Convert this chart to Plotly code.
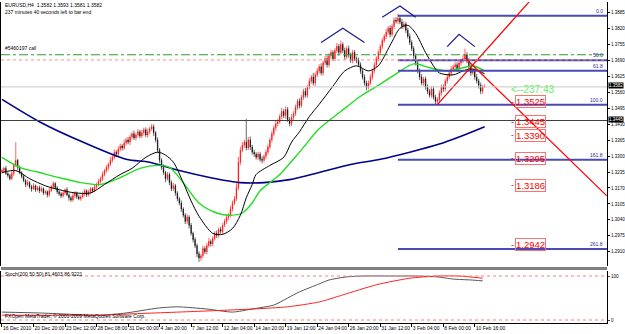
import plotly.graph_objects as go

# ---------------- data (prices in pips relative to 1.3000) ----------------
BASE = 1.3
first_open_pips = 235
close_pips = [
    241, 250, 229, 221, 208, 229, 262, 283, 254, 233,
    217, 200, 184, 192, 175, 167, 179, 163, 171, 159,
    167, 150, 155, 142, 159, 175, 188, 171, 155, 146,
    138, 150, 163, 142, 130, 121, 138, 150, 134, 126,
    134, 146, 159, 142, 155, 167, 159, 175, 184, 196,
    208, 225, 241, 254, 266, 283, 295, 316, 308, 328,
    341, 333, 353, 366, 357, 378, 391, 374, 386, 399,
    382, 395, 407, 386, 399, 411, 420, 395, 366, 324,
    283, 254, 233, 208, 225, 192, 167, 179, 150, 126,
    109, 84, 59, 34, 51, 18, -15, -40, -65, -98,
    -115, -106, -77, -90, -65, -48, -57, -36, -15, -23,
    1, -7, 18, 34, 51, 59, 84, 109, 126, 171,
    275, 324, 345, 357, 333, 366, 337, 316, 308, 295,
    308, 287, 283, 299, 316, 337, 366, 391, 415, 432,
    440, 461, 482, 465, 490, 448, 432, 457, 473, 498,
    523, 506, 540, 564, 548, 581, 606, 622, 598, 631,
    647, 664, 639, 680, 697, 672, 709, 722, 697, 730,
    747, 722, 755, 730, 705, 738, 713, 689, 722, 697,
    689, 672, 647, 622, 598, 581, 598, 622, 647, 672,
    697, 722, 747, 771, 788, 805, 821, 796, 829, 854,
    850, 862, 846, 829, 838, 813, 788, 763, 738, 709,
    680, 647, 622, 598, 614, 581, 564, 548, 573, 540,
    523, 531, 556, 581, 573, 606, 622, 639, 655, 664,
    672, 655, 680, 689, 697, 713, 689, 664, 639, 647,
    622, 606, 589, 564, 581, 582,
]
upper_wick = [
    8, 6, 10, 5, 7, 12, 9, 74, 6, 8,
    5, 9, 7, 12, 6, 8, 10, 5, 7, 9,
    10, 6, 8, 5, 12, 7, 9, 6, 8, 5,
    7, 9, 5, 10, 6, 8, 12, 7, 5, 9,
    6, 10, 8, 5, 9, 7, 6, 11, 8, 10,
    9, 12, 7, 10, 8, 14, 9, 11, 8, 12,
    10, 8, 15, 9, 12, 10, 8, 13, 9, 11,
    8, 12, 9, 10, 14, 8, 12, 9, 7, 10,
    9, 8, 12, 7, 10, 8, 9, 11, 8, 7,
    8, 10, 7, 9, 12, 8, 10, 7, 9, 8,
    10, 8, 12, 9, 11, 14, 8, 10, 9, 12,
    8, 11, 9, 10, 12, 9, 14, 10, 12, 18,
    22, 15, 12, 10, 95, 12, 14, 9, 10, 8,
    10, 9, 12, 8, 11, 10, 9, 12, 10, 14,
    12, 10, 15, 9, 12, 10, 11, 14, 10, 12,
    10, 12, 9, 11, 14, 10, 12, 9, 17, 10,
    12, 10, 14, 9, 11, 13, 10, 12, 9, 11,
    14, 10, 16, 9, 12, 10, 13, 9, 11, 10,
    9, 12, 10, 8, 11, 9, 10, 12, 9, 11,
    10, 12, 9, 11, 10, 13, 9, 12, 10, 11,
    12, 18, 10, 13, 11, 9, 10, 12, 9, 10,
    9, 11, 10, 12, 9, 10, 11, 9, 12, 10,
    10, 9, 12, 10, 11, 9, 12, 10, 11, 9,
    11, 10, 12, 9, 14, 25, 10, 12, 9, 11,
    10, 12, 9, 11, 10, 11,
]
lower_wick = [
    7, 10, 6, 9, 8, 5, 10, 6, 12, 7,
    9, 6, 10, 7, 8, 12, 6, 9, 7, 10,
    6, 9, 7, 11, 8, 6, 10, 7, 9, 8,
    10, 7, 9, 6, 12, 8, 7, 10, 9, 6,
    8, 6, 10, 9, 7, 11, 8, 6, 9, 7,
    7, 10, 8, 9, 11, 7, 10, 8, 12, 9,
    9, 11, 8, 10, 9, 12, 10, 8, 11, 9,
    10, 8, 12, 9, 11, 10, 8, 13, 10, 12,
    12, 10, 9, 14, 8, 11, 10, 9, 12, 10,
    10, 12, 9, 11, 10, 13, 9, 12, 10, 14,
    16, 12, 10, 9, 11, 8, 12, 10, 9, 11,
    10, 9, 12, 8, 10, 11, 9, 10, 8, 9,
    10, 12, 9, 11, 10, 9, 12, 10, 11, 9,
    12, 10, 13, 9, 11, 10, 9, 11, 10, 12,
    11, 9, 12, 10, 13, 9, 11, 10, 12, 9,
    10, 12, 9, 11, 10, 12, 9, 11, 10, 12,
    9, 11, 10, 12, 9, 11, 10, 12, 9, 11,
    10, 12, 9, 11, 13, 10, 12, 9, 11, 10,
    11, 9, 12, 10, 11, 13, 10, 9, 11, 10,
    9, 11, 10, 12, 9, 11, 10, 12, 9, 11,
    10, 12, 9, 11, 10, 12, 9, 11, 10, 12,
    11, 10, 12, 9, 11, 10, 12, 9, 11, 10,
    12, 17, 11, 10, 12, 9, 11, 10, 12, 9,
    10, 12, 9, 11, 10, 9, 11, 10, 12, 9,
    11, 10, 14, 12, 10, 0,
]

xtick_bars = [0, 16, 32, 48, 64, 80, 96, 112, 128, 144, 160, 176, 192, 208, 224, 240]
xtick_labels = ["16 Dec 2010", "20 Dec 20:00", "23 Dec 12:00", "28 Dec 08:00", "31 Dec 00:00",
                "4 Jan 20:00", "7 Jan 12:00", "12 Jan 04:00", "14 Jan 20:00", "19 Jan 12:00",
                "24 Jan 04:00", "26 Jan 20:00", "31 Jan 12:00", "3 Feb 04:00", "8 Feb 00:00",
                "10 Feb 16:00"]
ytick_vals = [1.2910, 1.2975, 1.3040, 1.3105, 1.3170, 1.3235, 1.3300, 1.3365, 1.3430,
              1.3495, 1.3560, 1.3625, 1.3690, 1.3755, 1.3820, 1.3885]
ytick_labels = ["1.2910", "1.2975", "1.3040", "1.3105", "1.3170", "1.3235", "1.3300", "1.3365",
                "1.3430", "1.3495", "1.3560", "1.3625", "1.3690", "1.3755", "1.3820", "1.3885"]

black_ma_bars = [0, 7, 14, 22, 29, 37, 45, 52, 60, 66, 73, 79, 83, 87, 92, 96, 100, 107, 112, 117,
                 121, 124, 127, 129, 136, 143, 147, 151, 156, 161, 168, 174, 180, 186, 191, 197,
                 202, 206, 210, 215, 219, 222, 229, 234, 238, 242, 245]
black_ma_pips = [233, 241, 208, 179, 163, 150, 150, 184, 225, 250, 295, 316, 304, 275, 192, 117,
                 55, -15, -19, 5, 59, 130, 184, 225, 262, 295, 357, 399, 461, 511, 585, 647, 668,
                 647, 668, 751, 821, 833, 800, 722, 668, 639, 631, 647, 655, 647, 635]
green_ma_bars = [0, 9, 19, 29, 40, 50, 60, 70, 79, 85, 92, 100, 109, 116, 122, 127, 131, 136, 141,
                 151, 161, 172, 182, 192, 200, 209, 217, 226, 234, 239, 245]
green_ma_pips = [295, 254, 233, 212, 192, 184, 212, 250, 262, 254, 192, 109, 68, 59, 68, 109, 159,
                 192, 225, 316, 411, 482, 544, 593, 635, 676, 660, 647, 660, 668, 647]
navy_ma_bars = [0, 19, 41, 63, 75, 90, 106, 121, 133, 146, 161, 177, 192, 207, 222, 232, 245]
navy_ma_pips = [531, 440, 357, 287, 275, 241, 212, 192, 192, 204, 233, 266, 287, 316, 349, 378, 420]

stoch_main_bars = [0, 19, 50, 63, 79, 89, 104, 117, 127, 138, 145, 151, 161, 166, 175, 183, 198,
                   211, 221, 229, 238, 244]
stoch_main_vals = [18, 16, 11, 16, 27, 30, 25, 18, 25, 34, 50, 64, 82, 91, 98, 100, 100, 100, 98,
                   93, 91, 89]
stoch_sig_bars = [0, 50, 66, 101, 127, 145, 161, 173, 190, 207, 221, 232, 244]
stoch_sig_vals = [11, 11, 14, 20, 25, 30, 41, 57, 80, 95, 100, 100, 95]
stoch_levels = [100, 0]

fib_start_bar = 201
fib_high = 1.3872
fib_low = 1.3509
fib_levels = [0.0, 50.0, 61.8, 100.0, 161.8, 261.8]

target_levels = [1.3525, 1.3445, 1.3390, 1.3295, 1.3186, 1.2942]
order_open = 1.3713
order_tp = 1.3692
bid_price = 1.3582
h_line = 1.3445

hs_marks = [
    ([162, 173, 184], [1.3763, 1.3821, 1.3763]),
    ([193, 202, 210], [1.3866, 1.3912, 1.3866]),
    ([226, 232, 240], [1.3746, 1.3796, 1.3746]),
]
red_up_bars = [221, 300]
red_up_prices = [1.3510, 1.4220]
red_down_bars = [235, 307]
red_down_prices = [1.3701, 1.3138]

# ---------------- build ----------------
closes = [BASE + v / 10000 for v in close_pips]
opens = [BASE + first_open_pips / 10000] + closes[:-1]
highs = [max(o, c) + u / 10000 for o, c, u in zip(opens, closes, upper_wick)]
lows = [min(o, c) - w / 10000 for o, c, w in zip(opens, closes, lower_wick)]
bars = list(range(len(closes)))

W, H = 625, 334
L, R, T, B = 1, 18, 2, 11
PW, PH = W - L - R, H - T - B
def px_x(x): return (x - L) / PW
def px_y(y): return 1 - (y - T) / PH

main_dom = [px_y(266), 1.0]
sub_dom = [0.0, px_y(271)]
XR = [-0.5, 307.1]
FONT = "Liberation Sans"

fig = go.Figure()
fig.add_trace(go.Candlestick(
    x=bars, open=opens, high=highs, low=lows, close=closes,
    increasing=dict(line=dict(color="#ff0000", width=0.6), fillcolor="#ff0000"),
    decreasing=dict(line=dict(color="#000000", width=0.6), fillcolor="#000000"),
    whiskerwidth=0, xaxis="x", yaxis="y", showlegend=False, hoverinfo="skip"))

def ma(xs, ps, color, width):
    fig.add_trace(go.Scatter(x=xs, y=[BASE + p / 10000 for p in ps], mode="lines",
                             line=dict(color=color, width=width, shape="spline", smoothing=0.8),
                             xaxis="x", yaxis="y", showlegend=False, hoverinfo="skip"))
ma(navy_ma_bars, navy_ma_pips, "#00008b", 1.6)
ma(green_ma_bars, green_ma_pips, "#22dd22", 1.4)
ma(black_ma_bars, black_ma_pips, "#000000", 1.0)

# fibonacci lines
for lv in fib_levels:
    p = fib_high - lv / 100 * (fib_high - fib_low)
    fig.add_trace(go.Scatter(x=[fib_start_bar, XR[1] + 5], y=[p, p], mode="lines",
                             line=dict(color="#4a4ab4", width=2), xaxis="x", yaxis="y",
                             showlegend=False, hoverinfo="skip"))
    fig.add_annotation(x=306, y=p, xref="x", yref="y", text="%.1f" % lv, showarrow=False,
                       xanchor="right", yanchor="bottom", font=dict(family=FONT, size=5, color="#2a2a9a"))

# trend lines
fig.add_trace(go.Scatter(x=red_up_bars, y=red_up_prices, mode="lines", line=dict(color="#ff0000", width=1.2),
                         xaxis="x", yaxis="y", showlegend=False, hoverinfo="skip"))
fig.add_trace(go.Scatter(x=red_down_bars, y=red_down_prices, mode="lines", line=dict(color="#ff0000", width=1.2),
                         xaxis="x", yaxis="y", showlegend=False, hoverinfo="skip"))
for xs, ys in hs_marks:
    fig.add_trace(go.Scatter(x=xs, y=ys, mode="lines", line=dict(color="#1a1a8c", width=1.2),
                             xaxis="x", yaxis="y", showlegend=False, hoverinfo="skip"))

# stochastic
fig.add_trace(go.Scatter(x=stoch_main_bars, y=stoch_main_vals, mode="lines",
                         line=dict(color="#555555", width=1, shape="spline", smoothing=0.6),
                         xaxis="x2", yaxis="y2", showlegend=False, hoverinfo="skip"))
fig.add_trace(go.Scatter(x=stoch_sig_bars, y=stoch_sig_vals, mode="lines",
                         line=dict(color="#ff2020", width=1, shape="spline", smoothing=0.6),
                         xaxis="x2", yaxis="y2", showlegend=False, hoverinfo="skip"))

shapes = []
def hline(y, color, dash, width=1, yref="y"):
    shapes.append(dict(type="line", xref="paper", x0=0, x1=1, yref=yref, y0=y, y1=y,
                       line=dict(color=color, width=width, dash=dash)))
hline(order_open, "#2e9e2e", "dashdot")
hline(order_tp, "#ff9090", "dot")
hline(bid_price, "#c8c8c8", "solid")
hline(h_line, "#404040", "solid")
for lv in stoch_levels:
    hline(lv, "#ff8080", "dot", yref="y2")
# separator between windows
shapes.append(dict(type="rect", xref="paper", yref="paper", x0=0, x1=1, y0=px_y(270), y1=px_y(267),
                   fillcolor="#808080", line=dict(width=0)))

def txt(x, y, s, size=5, color="#000000"):
    fig.add_annotation(x=px_x(x), y=px_y(y), xref="paper", yref="paper", text=s, showarrow=False,
                       xanchor="left", yanchor="middle", font=dict(family=FONT, size=size, color=color))
txt(3, 5, "EURUSD,H4  1.3582 1.3593 1.3581 1.3582")
txt(3, 12, "237 minutes 40 seconds left to bar end")
txt(3, 48, "#5460197 call")
txt(3, 274, "Stoch(200,50,50) 81.4603 86.9221")
txt(3, 316, "FXOpen MetaTrader, © 2001-2009 MetaQuotes Software Corp.")

for lv in target_levels:
    fig.add_annotation(x=260.5, y=lv, xref="x", yref="y", text=("%.4f" % lv), showarrow=False,
                       xanchor="left", yanchor="middle", yshift=-1, borderpad=0, borderwidth=1,
                       bgcolor="rgba(255,255,255,0)",
                       bordercolor="#ff7070", font=dict(family=FONT, size=9.5, color="#ff0000"))
    fig.add_annotation(x=257.5, y=lv, xref="x", yref="y", text="-", showarrow=False,
                       xanchor="left", yanchor="middle", yshift=-1,
                       font=dict(family=FONT, size=9, color="#ff0000"))
fig.add_annotation(x=257.5, y=bid_price, xref="x", yref="y", text="<--237:43", showarrow=False,
                   xanchor="left", yanchor="middle", yshift=-3,
                   font=dict(family=FONT, size=10, color="#66ee66"))
for p in [bid_price, h_line]:
    fig.add_annotation(x=1.0, y=p, xref="paper", yref="y", text="%.4f" % p, showarrow=False,
                       xanchor="left", yanchor="middle", xshift=1, yshift=1, bgcolor="#000000",
                       borderpad=0, font=dict(family=FONT, size=4.5, color="#ffffff"))

fig.update_layout(
    width=W, height=H, margin=dict(l=L, r=R, t=T, b=B, autoexpand=False),
    paper_bgcolor="#ffffff", plot_bgcolor="#ffffff", showlegend=False, boxgap=0.6,
    xaxis=dict(domain=[0, 1], range=XR, anchor="y", matches="x2", showticklabels=False,
               showgrid=False, zeroline=False, showline=False, rangeslider=dict(visible=False),
               automargin=False),
    yaxis=dict(domain=main_dom, range=[1.2852, 1.3928], side="right", anchor="x",
               tickvals=ytick_vals, ticktext=ytick_labels, ticks="outside", ticklen=2,
               tickcolor="#000000", showline=True, linecolor="#000000", linewidth=1, mirror=True,
               showgrid=False, zeroline=False, automargin=False,
               tickfont=dict(family=FONT, size=4.5, color="#000000")),
    xaxis2=dict(domain=[0, 1], range=XR, anchor="y2", tickvals=xtick_bars, ticktext=xtick_labels,
                ticks="outside", ticklen=3, tickcolor="#000000", ticklabelposition="outside right",
                tickangle=0, automargin=False,
                showline=True, linecolor="#000000", linewidth=1, showgrid=False, zeroline=False,
                tickfont=dict(family=FONT, size=5, color="#000000")),
    yaxis2=dict(domain=sub_dom, range=[-6.8, 111.4], side="right", anchor="x2",
                tickvals=[100, 0], ticktext=["100", "0"], ticks="outside", ticklen=2,
                showline=True, linecolor="#000000", linewidth=1, mirror=True, automargin=False,
                showgrid=False, zeroline=False, tickfont=dict(family=FONT, size=4.5, color="#000000")),
    shapes=shapes,
)
fig.write_html("out.html")
